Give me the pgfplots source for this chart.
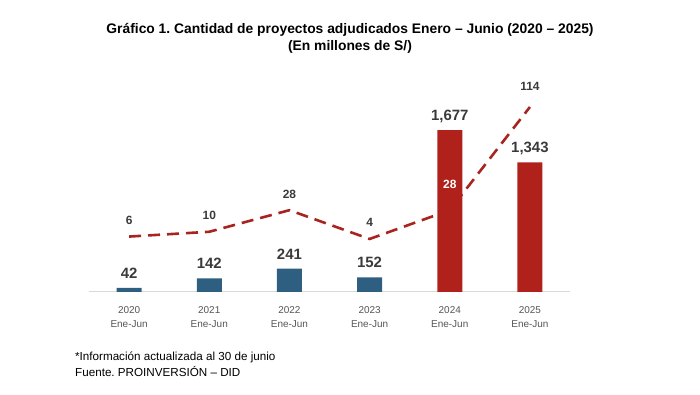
\documentclass[border=0pt]{standalone}
\usepackage{pgfplots}
\pgfplotsset{compat=1.18}
\usepackage{fontspec}
\setmainfont{Liberation Sans}
\frenchspacing
\definecolor{barblue}{HTML}{2F5F80}
\definecolor{barred}{HTML}{B0211B}
\definecolor{linered}{HTML}{A8241E}
\definecolor{lbl}{HTML}{3A3A3A}
\definecolor{tick}{HTML}{555555}
\definecolor{axln}{HTML}{D9D9D9}
\pgfplotsset{
  base/.style={at={(89bp,103bp)}, anchor=south west, scale only axis,
    width=481bp, height=212bp, xmin=-0.5, xmax=5.5, clip=false,
    /pgf/number format/assume math mode=true,
    /pgf/number format/1000 sep={,}},
  sec/.style={base, ymin=-40.2, ymax=136.5, hide axis},
}
\begin{document}
\begin{tikzpicture}
\path[use as bounding box] (0bp,0bp) rectangle (700bp,395bp);
\node[font=\bfseries\fontsize{13.9}{17}\selectfont, align=center] at (350bp,356.5bp)
  {Gráfico 1. Cantidad de proyectos adjudicados Enero – Junio (2020 – 2025)\\(En millones de S/)};
\node[font=\fontsize{11.7}{16}\selectfont, align=left, anchor=west, inner sep=0pt] at (75bp,31bp)
  {*Información actualizada al 30 de junio\\Fuente. PROINVERSIÓN – DID};
% line (behind bars)
\begin{axis}[sec]
\addplot[linered, line width=2.6bp, dash pattern=on 12bp off 7bp] coordinates {
(0,6) (1,10) (2,28) (3,4) (4,28) (5,114)};
\end{axis}
% bars
\begin{axis}[base, ymin=0, ymax=2195,
  axis y line=none, axis x line=bottom, axis line style={axln, line width=1bp, -},
  xtick={0,1,2,3,4,5}, major tick length=0pt,
  xticklabels={{2020\\Ene-Jun},{2021\\Ene-Jun},{2022\\Ene-Jun},{2023\\Ene-Jun},{2024\\Ene-Jun},{2025\\Ene-Jun}},
  xticklabel style={align=center, font=\fontsize{10}{14}\selectfont, text=tick, yshift=-11bp},
  ybar, bar width=25bp, bar shift=0pt,
  nodes near coords, nodes near coords style={anchor=base, inner sep=0pt, yshift=9.5bp,
     font=\bfseries\fontsize{15}{17}\selectfont, text=lbl}]
\addplot[fill=barblue, draw=none] coordinates {(0,42) (1,142) (2,241) (3,152)};
\addplot[fill=barred, draw=none] coordinates {(4,1677) (5,1343)};
\end{axis}
% line labels
\begin{axis}[sec, nodes near coords,
  nodes near coords style={anchor=base, inner sep=0pt, yshift=12bp,
     font=\bfseries\fontsize{12}{14}\selectfont, text=lbl}]
\addplot[draw=none, mark=none] coordinates {(0,6) (1,10) (2,28) (3,4)};
\addplot[draw=none, mark=none, nodes near coords style={text=white, yshift=10bp}] coordinates {(4,28)};
\addplot[draw=none, mark=none, nodes near coords style={yshift=4bp}] coordinates {(5,114)};
\end{axis}
\end{tikzpicture}
\end{document}
